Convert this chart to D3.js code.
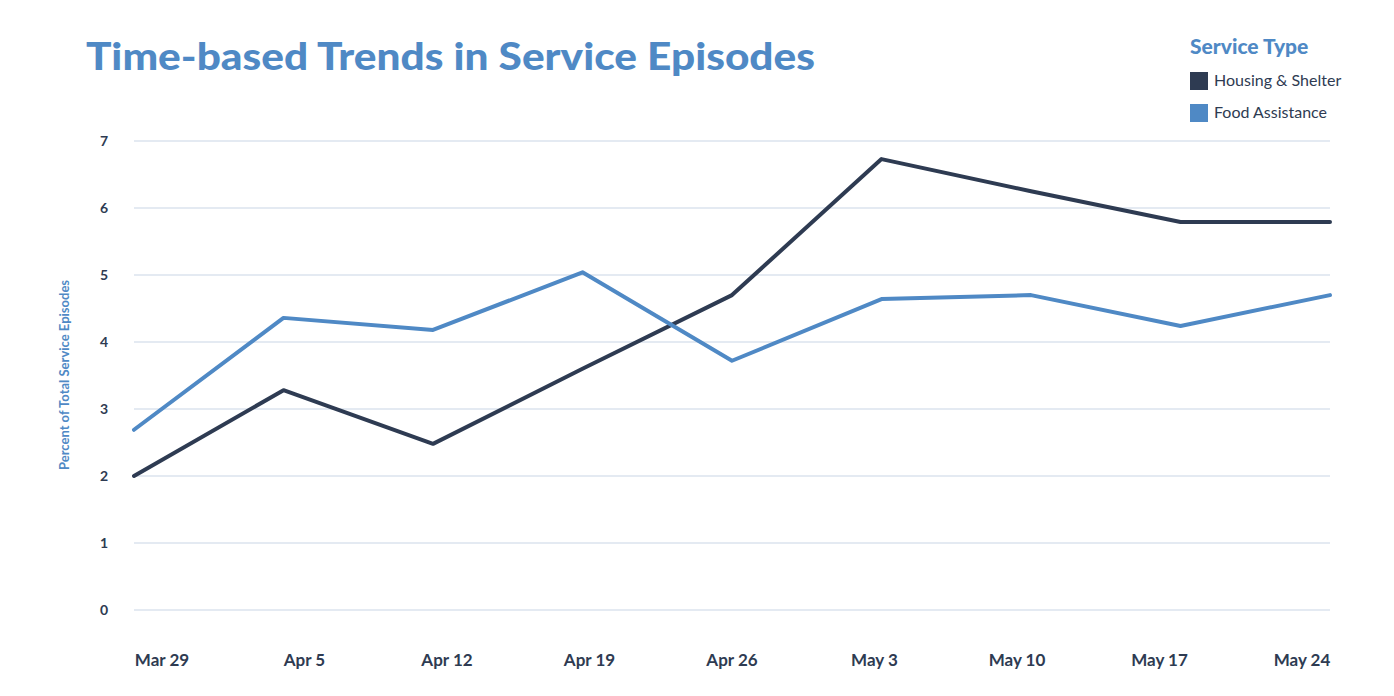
<!DOCTYPE html>
<html><head><meta charset="utf-8">
<script src="https://cdn.jsdelivr.net/npm/d3@7"></script>
<style>body{margin:0;background:#fff;} svg{display:block;font-family:Lato,"Open Sans",sans-serif;}</style>
</head><body>
<svg id="c" width="1394" height="696"></svg>
<script>
const categories = ["Mar 29","Apr 5","Apr 12","Apr 19","Apr 26","May 3","May 10","May 17","May 24"];
const housing = [2.0, 3.28, 2.48, 3.6, 4.7, 6.73, 6.25, 5.79, 5.79];
const food = [2.69, 4.36, 4.18, 5.04, 3.72, 4.64, 4.7, 4.24, 4.7];
const yTicks = [0,1,2,3,4,5,6,7];
const seriesNames = ["Housing & Shelter","Food Assistance"];
const colors = ["#2e3b52","#4f89c5"];

const svg = d3.select("#c");
const x = d3.scalePoint().domain(categories).range([134,1330]);
const xLabel = d3.scalePoint().domain(categories).range([162,1302]);
const y = d3.scaleLinear().domain([0,7]).range([610,141]);

// gridlines
svg.append("g").selectAll("line").data(yTicks).join("line")
  .attr("x1",134).attr("x2",1330).attr("y1",d=>y(d)).attr("y2",d=>y(d))
  .attr("stroke","#dbe3ee").attr("stroke-width",1.5);

// y tick labels
svg.append("g").selectAll("text").data(yTicks).join("text")
  .attr("x",104).attr("y",d=>y(d)+5).attr("text-anchor","middle")
  .attr("font-size",14).attr("font-weight",700).attr("fill","#2e3b52").text(d=>d);

// x labels
svg.append("g").selectAll("text").data(categories).join("text")
  .attr("x",d=>xLabel(d)).attr("y",666).attr("text-anchor","middle")
  .attr("font-size",17).attr("font-weight",700).attr("fill","#2e3b52").text(d=>d);

// y axis title
svg.append("text").attr("transform","translate(69,375) rotate(-90)").attr("text-anchor","middle")
  .attr("font-size",13).attr("font-weight",700).attr("fill","#4f89c5").text("Percent of Total Service Episodes");

const line = d3.line().x((d,i)=>x(categories[i])).y(d=>y(d));
[housing, food].forEach((s,i)=>{
  svg.append("path").datum(s).attr("d",line).attr("fill","none")
    .attr("stroke",colors[i]).attr("stroke-width",4).attr("stroke-linejoin","round").attr("stroke-linecap","round");
});

// title
svg.append("text").attr("x",86).attr("y",70).attr("font-size",38).attr("font-weight",900)
  .attr("fill","#4f89c5").attr("textLength",729).attr("lengthAdjust","spacingAndGlyphs").text("Time-based Trends in Service Episodes");

// legend
svg.append("text").attr("x",1190).attr("y",54).attr("font-size",21).attr("font-weight",900)
  .attr("fill","#4f89c5").text("Service Type");
const lg = svg.append("g").selectAll("g").data(seriesNames).join("g")
  .attr("transform",(d,i)=>`translate(1190,${72+i*32})`);
lg.append("rect").attr("width",18).attr("height",18).attr("fill",(d,i)=>colors[i]);
lg.append("text").attr("x",24).attr("y",14).attr("font-size",16).attr("fill","#2e3b52").text(d=>d);
</script>
</body></html>
